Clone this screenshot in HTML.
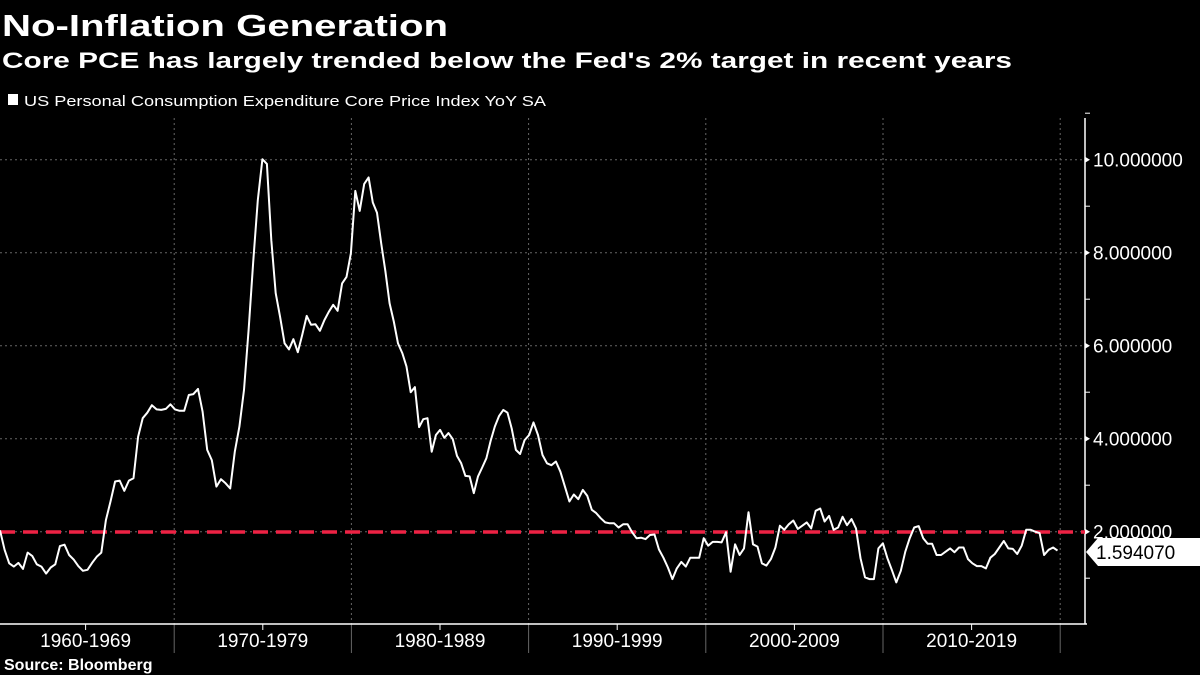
<!DOCTYPE html>
<html><head><meta charset="utf-8"><style>
html,body{margin:0;padding:0;background:#000;}
svg{display:block;font-family:"Liberation Sans",sans-serif;}
</style></head><body>
<svg id="chart" width="1200" height="675" viewBox="0 0 1200 675" xmlns="http://www.w3.org/2000/svg">
<rect width="1200" height="675" fill="#000"/>
<text x="2" y="36" fill="#fff" font-size="31" font-weight="bold" textLength="446" lengthAdjust="spacingAndGlyphs">No-Inflation Generation</text>
<text x="2" y="68" fill="#fff" font-size="22" font-weight="bold" textLength="1010" lengthAdjust="spacingAndGlyphs">Core PCE has largely trended below the Fed's 2% target in recent years</text>
<rect x="8" y="94" width="10" height="11" fill="#fff"/>
<text x="24" y="106" fill="#fff" font-size="15" textLength="522" lengthAdjust="spacingAndGlyphs">US Personal Consumption Expenditure Core Price Index YoY SA</text>
<g id="grid"></g>
<g id="axes"></g>
<line x1="0" y1="532" x2="1085" y2="532" stroke="#ee2244" stroke-width="3.5" stroke-dasharray="15,8"/>
<path id="series" fill="none" stroke="#fff" stroke-width="2" stroke-linejoin="round"/>
<g>
<polygon points="1086,552 1098,538 1200,538 1200,566 1098,566" fill="#fff"/>
<text x="1096" y="559" fill="#000" font-size="19">1.594070</text>
</g>
<text x="4" y="670" fill="#fff" font-size="16" font-weight="bold">Source: Bloomberg</text>
</svg>
<script>
const yTicks = [2, 4, 6, 8, 10];
const yTickLabels = ["2.000000", "4.000000", "6.000000", "8.000000", "10.000000"];
const decadeLabels = ["1960-1969", "1970-1979", "1980-1989", "1990-1999", "2000-2009", "2010-2019"];
const decadeStarts = [1960, 1970, 1980, 1990, 2000, 2010];
// observation dates: known anchor points (index -> decimal year), interpolated between
const anchorIndex = [0, 57, 81, 117, 239];
const anchorYear = [1960.17, 1974.98, 1980.97, 1989.52, 2019.85];
const values = [2.03,1.61,1.32,1.25,1.33,1.20,1.55,1.48,1.30,1.25,1.10,1.23,1.30,1.69,1.72,1.50,1.40,1.26,1.16,1.18,1.33,1.46,1.55,2.25,2.65,3.08,3.10,2.88,3.10,3.15,4.04,4.44,4.56,4.72,4.63,4.62,4.64,4.74,4.63,4.60,4.60,4.94,4.96,5.07,4.58,3.76,3.54,2.97,3.13,3.04,2.93,3.72,4.26,5.05,6.34,7.8,9.13,10.01,9.91,8.27,7.13,6.62,6.05,5.92,6.14,5.86,6.23,6.64,6.45,6.46,6.32,6.55,6.73,6.88,6.75,7.34,7.48,7.99,9.33,8.90,9.48,9.62,9.08,8.86,8.20,7.6,6.91,6.52,6.05,5.84,5.55,5.00,5.11,4.25,4.42,4.44,3.72,4.08,4.19,4.02,4.12,3.99,3.63,3.47,3.20,3.19,2.83,3.19,3.38,3.58,3.95,4.26,4.49,4.62,4.56,
4.22,3.76,3.67,3.97,4.08,4.35,4.08,3.65,3.47,3.43,3.51,3.29,2.97,2.65,2.80,2.70,2.90,2.77,2.47,2.40,2.29,2.20,2.18,2.18,2.09,2.16,2.16,1.99,1.86,1.87,1.84,1.93,1.94,1.62,1.44,1.23,0.98,1.21,1.35,1.25,1.44,1.44,1.44,1.86,1.70,1.78,1.78,1.77,1.99,1.14,1.73,1.50,1.64,2.42,1.73,1.68,1.32,1.27,1.41,1.66,2.13,2.04,2.16,2.24,2.06,2.13,2.20,2.07,2.45,2.50,2.22,2.34,2.04,2.09,2.32,2.14,2.27,2.07,1.43,1.02,0.98,0.98,1.64,1.75,1.43,1.18,0.91,1.16,1.57,1.86,2.09,2.12,1.86,1.74,1.74,1.50,1.50,1.57,1.64,1.56,1.66,1.66,1.41,1.32,1.26,1.26,1.21,1.44,1.52,1.66,1.80,1.64,1.63,1.52,1.70,2.04,2.04,2.00,1.97,1.50,1.61,1.66,1.594];

const NS = "http://www.w3.org/2000/svg";
function xScale(t){ return -3 + (t - 1960) * 17.72; }
function yScale(v){ return 624.7 - v * 46.5; }
function dateAt(i){
  const last = values.length - 1;
  const idx = anchorIndex.slice(); idx[idx.length - 1] = last;
  for (let k = 0; k < idx.length - 1; k++) {
    if (i <= idx[k + 1]) return anchorYear[k] + (anchorYear[k + 1] - anchorYear[k]) * (i - idx[k]) / (idx[k + 1] - idx[k]);
  }
  return anchorYear[anchorYear.length - 1];
}
function mk(tag, attrs, parent){ const e = document.createElementNS(NS, tag); for (const k in attrs) e.setAttribute(k, attrs[k]); parent.appendChild(e); return e; }

const grid = document.getElementById('grid');
const axes = document.getElementById('axes');
yTicks.forEach((v, i) => {
  const gl = mk('line', {x1:0, x2:1085, y1:yScale(v), y2:yScale(v), stroke:'#666', 'stroke-width':1, 'stroke-dasharray':'2,3'}, grid);
  
  
  const tk = mk('polygon', {points:`1085,${yScale(v)-3} 1090,${yScale(v)} 1085,${yScale(v)+3}`, fill:'#fff'}, axes);
  
  
  const lb = mk('text', {x:1093, y:yScale(v) + 7, fill:'#fff', 'font-size':19}, axes);
  lb.textContent = yTickLabels[i];
  
  
  const mt = mk('line', {x1:1085, x2:1090, y1:yScale(v-1), y2:yScale(v-1), stroke:'#fff', 'stroke-width':1}, axes);
  
  
});
const mt2 = mk('line', {x1:1085, x2:1090, y1:yScale(11), y2:yScale(11), stroke:'#fff', 'stroke-width':1}, axes);


decadeStarts.forEach((d, i) => {
  const xe = xScale(d + 10);
  const gl = mk('line', {x1:xe, x2:xe, y1:118, y2:624, stroke:'#666', 'stroke-width':1, 'stroke-dasharray':'2,3'}, grid);
  
  
  const sep = mk('line', {x1:xe, x2:xe, y1:624, y2:653, stroke:'#666', 'stroke-width':1}, axes);
  
  
  const xm = (xScale(d) + xScale(d + 10)) / 2;
  const tk = mk('line', {x1:xm, x2:xm, y1:624, y2:630, stroke:'#fff', 'stroke-width':1}, axes);
  
  
  const lb = mk('text', {x:xm, y:647, fill:'#fff', 'font-size':19, 'text-anchor':'middle'}, axes);
  lb.textContent = decadeLabels[i];
  
  
});
const xa = mk('line', {x1:0, x2:1087, y1:624, y2:624, stroke:'#fff', 'stroke-width':1.5}, axes);


const ya = mk('line', {x1:1085, x2:1085, y1:118, y2:624, stroke:'#fff', 'stroke-width':1.5}, axes);



let d = '';
values.forEach((v, i) => {
  d += (i ? 'L' : 'M') + xScale(dateAt(i)).toFixed(1) + ',' + yScale(v).toFixed(1);
});
document.getElementById('series').setAttribute('d', d);
</script>
</body></html>
